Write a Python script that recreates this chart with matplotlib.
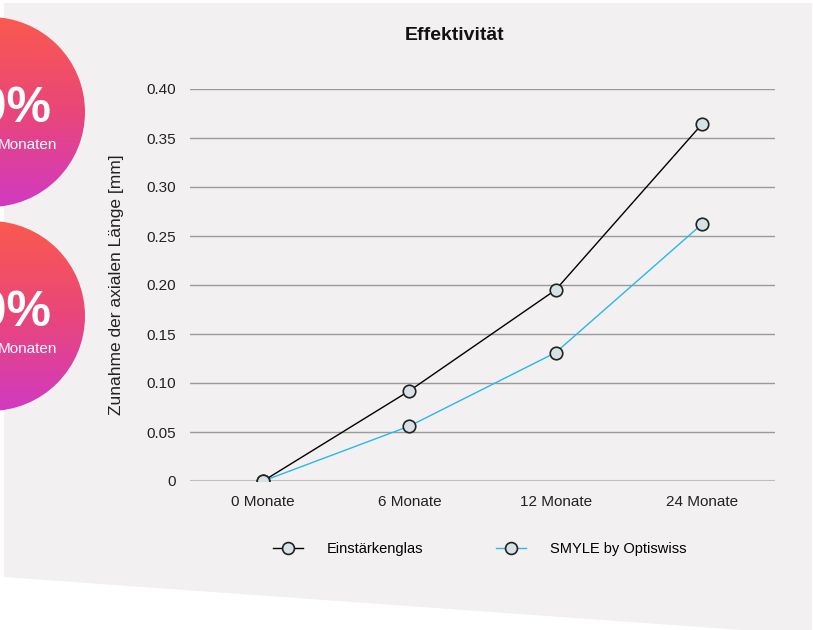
import numpy as np
import matplotlib
matplotlib.use("Agg")
from matplotlib import pyplot as plt
from matplotlib.patches import Polygon, Circle
from matplotlib.colors import LinearSegmentedColormap

categories = ["0 Monate", "6 Monate", "12 Monate", "24 Monate"]
einstaerkenglas = [0.0, 0.092, 0.195, 0.364]
smyle = [0.0, 0.056, 0.131, 0.262]
series_names = ["Einstärkenglas", "SMYLE by Optiswiss"]
yticks = [0, 0.05, 0.10, 0.15, 0.20, 0.25, 0.30, 0.35, 0.40]
ytick_labels = ["0", "0.05", "0.10", "0.15", "0.20", "0.25", "0.30", "0.35", "0.40"]
badge_values = ["50%", "60%"]

plt.rcParams["font.family"] = ["Liberation Sans", "DejaVu Sans"]

W, H = 813, 630
fig = plt.figure(figsize=(W / 100, H / 100), dpi=100)
fig.patch.set_facecolor("white")


def px(x, y):
    return (x / W, 1 - y / H)


# grey panel with slanted bottom edge
panel = Polygon([px(4, 3), px(812, 3), px(812, 635), px(4, 577)],
                closed=True, transform=fig.transFigure,
                facecolor="#f2f0f1", edgecolor="none", zorder=0)
fig.patches.append(panel)

# gradient badges on the left
bg = fig.add_axes([0, 0, 1, 1], zorder=1)
grad = np.linspace(0, 1, 256).reshape(-1, 1)
cmap = LinearSegmentedColormap.from_list("badge", ["#fa5a4e", "#e9467a", "#d13ac2"])
for cy, val in zip([112, 316], badge_values):
    r = 95
    cx = -10
    im = bg.imshow(grad, cmap=cmap, extent=(cx - r, cx + r, cy + r, cy - r),
                   aspect="auto", zorder=1)
    im.set_clip_path(Circle((cx, cy), r, transform=bg.transData))
    bg.text(51, cy - 3, val, color="white", fontsize=36, fontweight="bold",
            ha="right", va="center", zorder=2)
    bg.text(57, cy + 33, "Monaten", color="white", fontsize=11,
            ha="right", va="center", zorder=2)
bg.set_xlim(0, W)
bg.set_ylim(H, 0)
bg.axis("off")

fig.text(455 / W, 1 - 35 / H, "Effektivität", fontsize=14, fontweight="bold",
         color="#111111", ha="center", va="center")

# main chart
ax = fig.add_axes([190 / W, 1 - 481 / H, (775 - 190) / W, (481 - 89) / H], zorder=2)
ax.patch.set_alpha(0)
x = np.arange(len(categories))
ax.plot(x, einstaerkenglas, color="black", lw=1, marker="o", ms=9,
        mfc="#d6e2e5", mec="#222222", mew=1.2, label=series_names[0], zorder=4)
ax.plot(x, smyle, color="#29b8ea", lw=1, marker="o", ms=9,
        mfc="#d6e2e5", mec="#222222", mew=1.2, label=series_names[1], zorder=3)
ax.set_xlim(-0.5, 3.5)
ax.set_ylim(0, 0.40)
ax.set_yticks(yticks)
ax.set_yticklabels(ytick_labels)
ax.set_xticks(x)
ax.set_xticklabels(categories)
ax.tick_params(axis="both", length=0, labelsize=11, colors="#222222")
ax.tick_params(axis="y", pad=10)
ax.tick_params(axis="x", pad=10)
for t in yticks[1:]:
    ax.axhline(t, color="#9a9a9a", lw=1, zorder=1)
ax.axhline(0, color="#bdbdbd", lw=1.5, zorder=1)
for s in ax.spines.values():
    s.set_visible(False)
ax.set_ylabel("Zunahme der axialen Länge [mm]", fontsize=12.5, color="#222222", labelpad=16)

fig.legend(loc="center", bbox_to_anchor=(480 / W, 1 - 549 / H), ncol=2,
           frameon=False, fontsize=10.5, handlelength=2.05, columnspacing=5.0,
           handletextpad=1.65, markerscale=0.95)

fig.savefig("out.png", dpi=100, facecolor="white")
